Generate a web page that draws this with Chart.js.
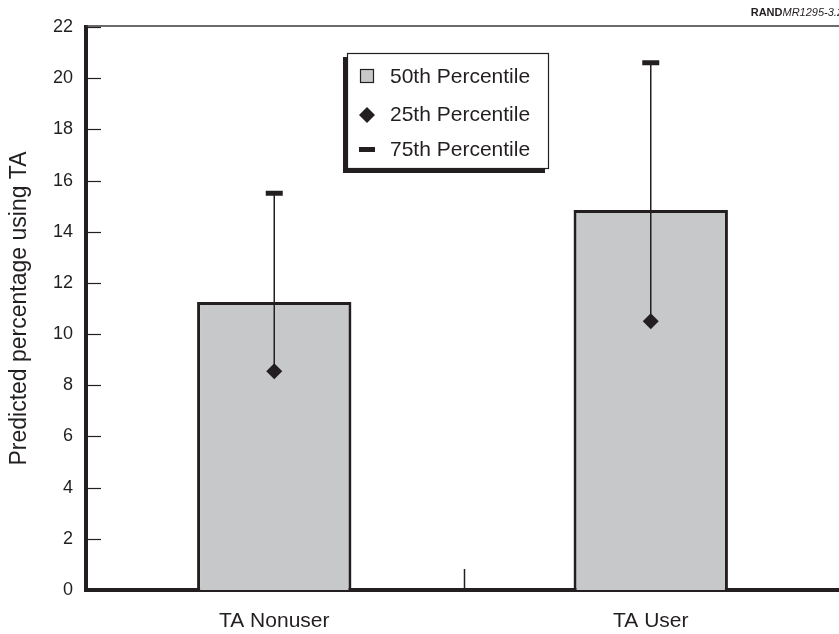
<!DOCTYPE html>
<html>
<head>
<meta charset="utf-8">
<script src="https://cdn.jsdelivr.net/npm/chart.js@4"></script>
<style>
  html, body { margin: 0; padding: 0; background: #fff; }
  #wrap { width: 839px; height: 634px; }
</style>
</head>
<body>
<div id="wrap"><canvas id="myChart" width="839" height="634"></canvas></div>
<script>
const categories = ['TA Nonuser', 'TA User'];
const median = [11.25, 14.85];
const lowerQuartile = [8.55, 10.5];
const upperQuartile = [15.5, 20.6];
const yTicks = [0, 2, 4, 6, 8, 10, 12, 14, 16, 18, 20, 22];

const ink = '#231f20';
const barFill = '#c7c8ca';
const font = "'Liberation Sans', Arial, Helvetica, sans-serif";

// vertical whisker from 25th to 75th, drawn just above the bars
const whiskers = {
  id: 'whiskers',
  afterDatasetDraw(chart, args) {
    if (args.index !== 0) return;
    let ctx = chart.ctx;
    let x = chart.scales.x, y = chart.scales.y;
    ctx.save();
    ctx.strokeStyle = ink;
    ctx.lineWidth = 1.5;
    categories.forEach((c, i) => {
      let px = x.getPixelForValue(i);
      ctx.beginPath();
      ctx.moveTo(px, y.getPixelForValue(lowerQuartile[i]));
      ctx.lineTo(px, y.getPixelForValue(upperQuartile[i]));
      ctx.stroke();
    });
    ctx.restore();
  }
};

// frame bits: inner ticks, top rule, middle tick, legend box, RAND tag
const decorations = {
  id: 'decorations',
  afterDraw(chart) {
    let ctx = chart.ctx;
    let area = chart.chartArea;
    let y = chart.scales.y, x = chart.scales.x;
    ctx.save();
    ctx.strokeStyle = ink;
    ctx.lineWidth = 1.2;
    yTicks.forEach(v => {
      if (v == 0) return;
      let py = Math.round(y.getPixelForValue(v)) + 0.5;
      ctx.beginPath();
      ctx.moveTo(area.left, py);
      ctx.lineTo(area.left + 15, py);
      ctx.stroke();
    });
    // top rule
    ctx.strokeStyle = '#3a3a3a';
    ctx.lineWidth = 1.5;
    ctx.beginPath();
    ctx.moveTo(area.left, area.top - 1);
    ctx.lineTo(chart.width, area.top - 1);
    ctx.stroke();
    // category divider tick
    let mid = (x.getPixelForValue(0) + x.getPixelForValue(1)) / 2 + 2;
    ctx.strokeStyle = ink;
    ctx.lineWidth = 1.5;
    ctx.beginPath();
    ctx.moveTo(mid, area.bottom - 21);
    ctx.lineTo(mid, area.bottom);
    ctx.stroke();

    // legend
    ctx.fillStyle = ink;
    ctx.fillRect(343, 57, 202, 116);
    ctx.fillStyle = '#fff';
    ctx.fillRect(347, 53, 202, 116);
    ctx.strokeStyle = ink;
    ctx.lineWidth = 1.2;
    ctx.strokeRect(347.5, 53.5, 201, 115);
    ctx.fillStyle = barFill;
    ctx.fillRect(360, 69, 14, 14);
    ctx.strokeRect(360.5, 69.5, 13, 13);
    ctx.fillStyle = ink;
    ctx.beginPath();
    ctx.moveTo(367, 107);
    ctx.lineTo(375, 115);
    ctx.lineTo(367, 123);
    ctx.lineTo(359, 115);
    ctx.closePath();
    ctx.fill();
    ctx.fillRect(359, 147, 16, 5);
    ctx.font = '21px ' + font;
    ctx.textBaseline = 'middle';
    ctx.textAlign = 'left';
    let labels = chart.data.datasets.map(d => d.label);
    ctx.fillText(labels[0], 390, 77);
    ctx.fillText(labels[1], 390, 115);
    ctx.fillText(labels[2], 390, 150);

    // RAND tag
    ctx.textBaseline = 'alphabetic';
    ctx.font = 'bold 11px ' + font;
    let w1 = ctx.measureText('RAND').width;
    ctx.font = 'italic 11px ' + font;
    let w2 = ctx.measureText('MR1295-3.2').width;
    let start = chart.width + 4 - w1 - w2;
    ctx.font = 'bold 11px ' + font;
    ctx.fillText('RAND', start, 16);
    ctx.font = 'italic 11px ' + font;
    ctx.fillText('MR1295-3.2', start + w1, 16);
    ctx.restore();
  }
};

let ctx = document.getElementById('myChart').getContext('2d');
let chart = new Chart(ctx, {
  type: 'bar',
  data: {
    labels: categories,
    datasets: [{
      type: 'bar',
      label: '50th Percentile',
      data: median,
      backgroundColor: barFill,
      borderColor: ink,
      borderWidth: 3,
      barPercentage: 0.41,
      categoryPercentage: 1,
      order: 3
    }, {
      type: 'line',
      label: '25th Percentile',
      data: lowerQuartile,
      showLine: false,
      pointStyle: 'rectRot',
      pointRadius: 8,
      backgroundColor: ink,
      borderColor: ink,
      borderWidth: 0,
      order: 1
    }, {
      type: 'line',
      label: '75th Percentile',
      data: upperQuartile,
      showLine: false,
      pointStyle: 'line',
      pointRadius: 8.5,
      borderColor: ink,
      borderWidth: 5,
      order: 2
    }]
  },
  options: {
    responsive: false,
    animation: false,
    layout: { autoPadding: false, padding: { top: 27, right: 0, left: 0, bottom: 0 } },
    plugins: { legend: { display: false }, tooltip: { enabled: false } },
    scales: {
      x: {
        grid: { display: false, drawTicks: false },
        border: { display: true, color: ink, width: 4 },
        ticks: { color: ink, font: { family: font, size: 21 }, padding: 19 },
        afterFit: s => { s.height = 44; s.paddingLeft = 0; s.paddingRight = 0; }
      },
      y: {
        min: 0,
        max: 22,
        afterBuildTicks: s => { s.ticks = yTicks.map(v => ({ value: v })); },
        grid: { display: false, drawTicks: false },
        border: { display: true, color: ink, width: 4 },
        ticks: { color: ink, font: { family: font, size: 18 }, padding: 13 },
        title: {
          display: true,
          text: 'Predicted percentage using TA',
          color: ink,
          font: { family: font, size: 23 },
          padding: { top: 6, bottom: 0 }
        },
        afterFit: s => { s.width = 86; s.paddingTop = 0; s.paddingBottom = 0; }
      }
    }
  },
  plugins: [whiskers, decorations]
});
</script>
</body>
</html>
